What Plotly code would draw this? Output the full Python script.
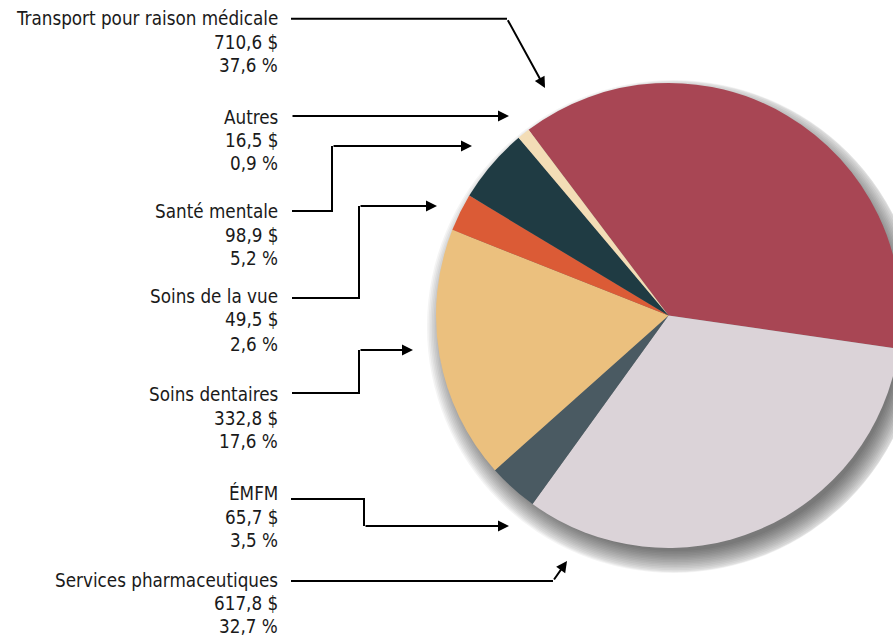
import plotly.graph_objects as go

# ---------------- data ----------------
categories = ["Transport pour raison médicale", "Services pharmaceutiques", "ÉMFM",
              "Soins dentaires", "Soins de la vue", "Santé mentale", "Autres"]
amounts = [710.6, 617.8, 65.7, 332.8, 49.5, 98.9, 16.5]
percents = [37.6, 32.7, 3.5, 17.6, 2.6, 5.2, 0.9]
colors = ["#A84654", "#DBD3D8", "#4A5A62", "#EBC07E", "#DB5B36", "#1F3B43", "#F3DDB6"]

# ---------------- geometry (pixels) ----------------
W, H = 920, 638
CX, CY, R = 668.5, 315.5, 232.5
FONT = "DejaVu Sans Condensed, Liberation Sans Narrow, sans-serif"
FS = 18.7


def px(x):
    return x / W


def py(y):
    return 1 - y / H


def dom(cx, cy, r):
    return dict(x=[max(0, px(cx - r)), min(1, px(cx + r))],
                y=[max(0, py(cy + r)), min(1, py(cy - r))])


fig = go.Figure()

# soft drop shadow (stack of translucent discs, offset to bottom-right)
for k in range(16):
    rr = R - 8 + k * 1.6
    fig.add_trace(go.Pie(values=[1], sort=False, textinfo="none", hoverinfo="skip",
                         marker=dict(colors=["rgba(0,0,0,0.042)"], line=dict(width=0)),
                         domain=dom(CX + 7, CY + 11, rr), showlegend=False))

fig.add_trace(go.Pie(
    labels=categories, values=amounts, sort=False, direction="clockwise",
    rotation=-37, textinfo="none", hoverinfo="label+value",
    marker=dict(colors=colors, line=dict(width=0)),
    domain=dom(CX, CY, R), showlegend=False))


def fmt(v):
    return f"{v:.1f}".replace(".", ",")


# label text positions (y of the three lines)
label_y = {
    "Transport pour raison médicale": (19, 42, 65),
    "Autres": (117, 140, 163),
    "Santé mentale": (212, 235, 259),
    "Soins de la vue": (297, 320, 344),
    "Soins dentaires": (394, 418, 441),
    "ÉMFM": (493, 517, 540),
    "Services pharmaceutiques": (580, 603, 626),
}

annotations = []
for name, amt, pct in zip(categories, amounts, percents):
    ys = label_y[name]
    for txt, yy in zip([name, fmt(amt) + " $", fmt(pct) + " %"], ys):
        annotations.append(dict(x=px(280), y=py(yy), xref="paper", yref="paper",
                                text=txt, showarrow=False, xanchor="right", yanchor="middle",
                                align="right", font=dict(family=FONT, size=FS, color="#1a1a1a")))

# leader lines: (path points before the arrow, arrow tail, arrow tip)
leaders = [
    ([(291, 18.7), (507, 18.7)], (507, 18.7), (545, 88)),
    ([], (291, 116), (509, 116)),
    ([(292, 211), (332, 211), (332, 146)], (332, 146), (472, 146)),
    ([(292, 298), (359, 298), (359, 206)], (359, 206), (437, 206)),
    ([(292, 393), (359, 393), (359, 350)], (359, 350), (413, 350)),
    ([(291, 499), (364, 499), (364, 526)], (364, 526), (509, 526)),
    ([(291, 581), (553, 581)], (553, 581), (567, 561)),
]

shapes = []
for pts, tail, tip in leaders:
    if pts:
        path = "M " + " L ".join(f"{px(x)},{py(y)}" for x, y in pts)
        shapes.append(dict(type="path", xref="paper", yref="paper", path=path,
                           line=dict(color="black", width=2)))
    annotations.append(dict(x=px(tip[0]), y=py(tip[1]), xref="paper", yref="paper",
                            ax=tail[0] - tip[0], ay=tail[1] - tip[1], text="",
                            showarrow=True, arrowhead=2, arrowsize=1.1, arrowwidth=2,
                            arrowcolor="black", standoff=0, startstandoff=0))

fig.update_layout(width=W, height=H, margin=dict(l=0, r=0, t=0, b=0),
                  paper_bgcolor="white", plot_bgcolor="white",
                  annotations=annotations, shapes=shapes, showlegend=False)

fig.write_html("out.html", config={"displayModeBar": False},
               post_script="document.body.style.margin='0';"
                           "document.body.style.overflow='hidden';"
                           "document.documentElement.style.overflow='hidden';")
